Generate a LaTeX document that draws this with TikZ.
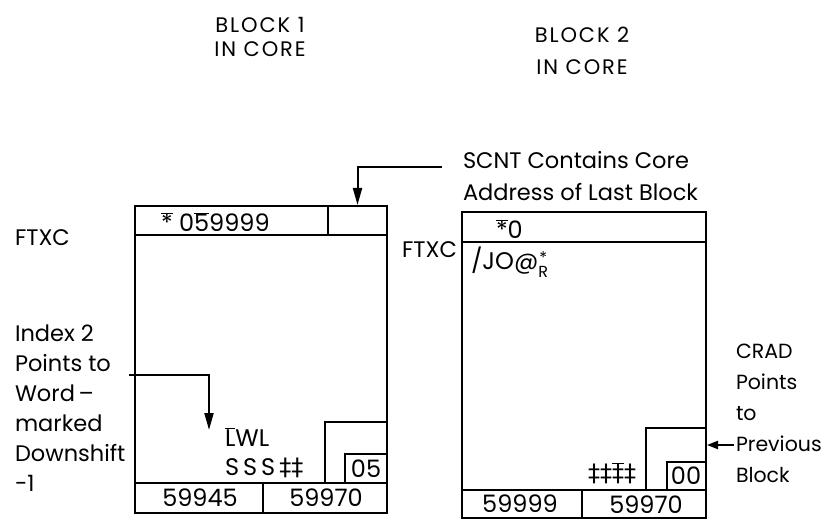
\documentclass[tikz,border=0pt]{standalone}
\usepackage{fontspec}
\setmainfont{Poppins}
\newfontfamily\ttlf[LetterSpace=9]{Poppins}
\newfontfamily\symf{DejaVu Sans}
\usetikzlibrary{arrows.meta}
\newcommand\ovr[1]{$\overline{\mbox{#1}}$}
\newcommand\dd{{\symf ‡}}
\begin{document}
\begin{tikzpicture}[x=1pt,y=-1pt,line width=2pt,
  lbl/.style={inner sep=0pt,align=left,font=\fontsize{22.5}{30}\selectfont},
  cell/.style={inner sep=0pt,font=\fontsize{24}{25}\selectfont},
  ttl/.style={inner sep=0pt,align=center,font=\ttlf\fontsize{21}{23.5}\selectfont},
  blockbox/.style={draw,inner sep=0pt,line width=2pt},
  ptr/.style={-{Triangle[length=17pt,width=9pt]}}]
\useasboundingbox (0,0) rectangle (827,521);

\node[ttl] (title1) at (260,37) {BLOCK 1\\IN CORE};
\node[ttl,font=\ttlf\fontsize{21}{32}\selectfont] (title2) at (582,51) {BLOCK 2\\IN CORE};

\node[blockbox,minimum width=252pt,minimum height=307pt] (blk1) at (261,359.5) {};
\node[blockbox,minimum width=59pt,minimum height=29pt] (ptr1) at (357.5,220.5) {};
\draw (135,235)--(387,235);
\draw (135,483)--(387,483);
\draw (263,483)--(263,513);
\draw (325,483) |- (387,422);
\draw (345,483) |- (387,454);
\node[cell,anchor=west] (hdr1) at (160,222) {\ovr{*} 0\ovr{5}9999};
\node[cell,anchor=west] (lwl) at (224,437) {\ovr{L}WL};
\node[cell,anchor=west] (sss) at (224,468) {S\,S\,S\,\dd\dd};
\node[cell] (cnt1) at (366,469) {05};
\node[cell] (addr1a) at (200,498) {59945};
\node[cell] (addr1b) at (326,498) {59970};

\node[blockbox,minimum width=244pt,minimum height=306pt] (blk2) at (584,365) {};
\draw (462,242)--(706,242);
\draw (462,490)--(706,490);
\draw (582,490)--(582,518);
\draw (646,490) |- (706,428);
\draw (667,490) |- (706,462);
\node[cell,anchor=west] (hdr2) at (495,229) {\ovr{*}0};
\node[cell,anchor=west] (mark2) at (470,262) {/JO@\raisebox{-8pt}{\fontsize{16}{16}\selectfont\shortstack{*\\R}}};
\node[cell,anchor=west] (gm2) at (587,473) {\dd\dd\ovr{\dd}\dd};
\node[cell] (cnt2) at (686,476) {00};
\node[cell] (addr2a) at (520,504) {59999};
\node[cell] (addr2b) at (646,505) {59970};

\node[lbl,anchor=west] (ftxc1) at (14,238) {FTXC};
\node[lbl,anchor=east] (ftxc2) at (458,250) {FTXC};
\node[lbl,anchor=north west] (idx) at (14,324) {Index 2\\Points to\\Word\,–\\marked\\Downshift\\-1};
\node[lbl,anchor=north west,font=\fontsize{22.5}{32}\selectfont] (scnt) at (462,150) {SCNT Contains Core\\Address of Last Block};
\node[lbl,anchor=north west,font=\fontsize{20.5}{31}\selectfont] (crad) at (735,343) {CRAD\\Points\\to\\Previous\\Block};

\coordinate (scnttail) at (442,167);
\coordinate (idxtail) at (129,375);
\coordinate (idxhead) at (209,430);
\coordinate (cradtail) at (734,445);

\draw[ptr] (scnttail) -| (ptr1.north);
\draw[ptr] (idxtail) -| (idxhead);
\draw[-{Triangle[length=11pt,width=8pt]}] (cradtail) -- (cradtail -| blk2.east);
\end{tikzpicture}
\end{document}
